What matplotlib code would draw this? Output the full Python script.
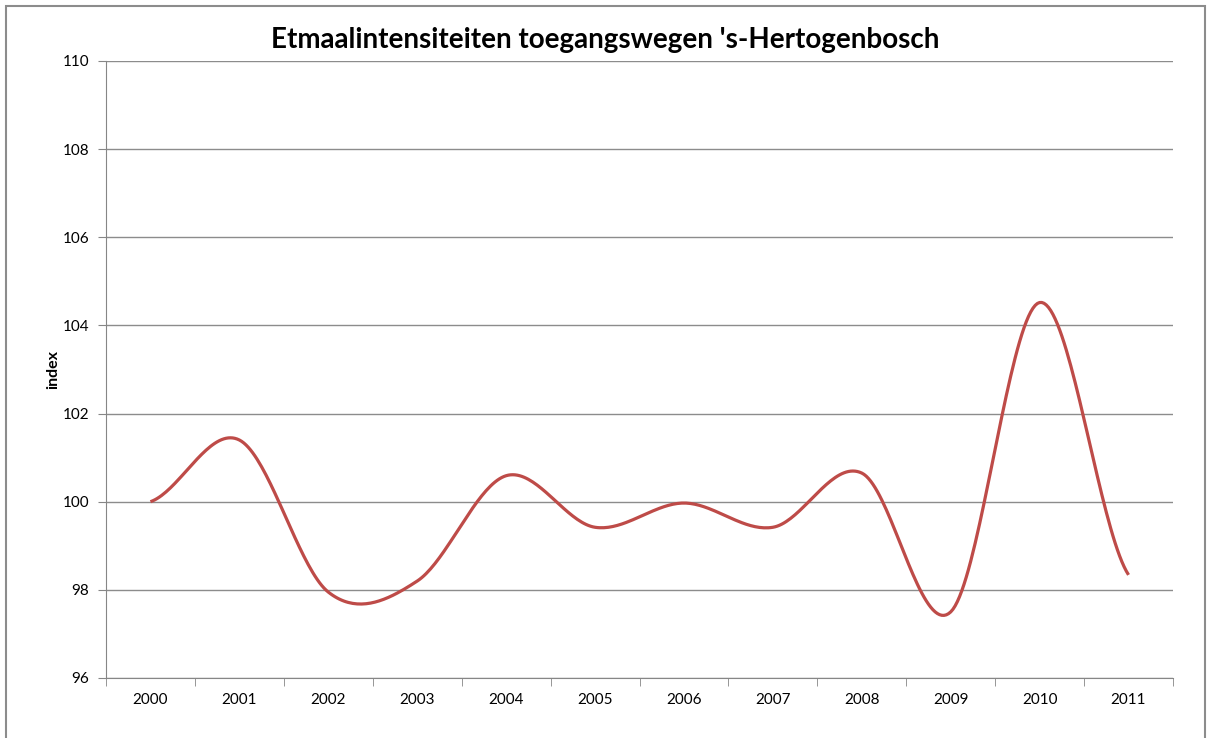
import numpy as np
import matplotlib.pyplot as plt
from matplotlib.patches import Rectangle

# Data
years = ['2000', '2001', '2002', '2003', '2004', '2005',
         '2006', '2007', '2008', '2009', '2010', '2011']
index_values = [100.0, 101.4, 97.95, 98.2, 100.59, 99.42,
                99.97, 99.42, 100.65, 97.5, 104.52, 98.34]
y_ticks = [96, 98, 100, 102, 104, 106, 108, 110]

plt.rcParams['font.family'] = ['Lato', 'DejaVu Sans']


def smooth(vals, n=40):
    # Excel-like smoothed line (Catmull-Rom / cubic Hermite)
    p = np.asarray(vals, dtype=float)
    ext = np.concatenate([[p[0]], p, [p[-1]]])
    xs, ys = [], []
    t = np.linspace(0, 1, n, endpoint=False)
    for i in range(len(p) - 1):
        m0 = (ext[i + 2] - ext[i]) / 2
        m1 = (ext[i + 3] - ext[i + 1]) / 2
        h00 = 2 * t**3 - 3 * t**2 + 1
        h10 = t**3 - 2 * t**2 + t
        h01 = -2 * t**3 + 3 * t**2
        h11 = t**3 - t**2
        xs.append(i + t)
        ys.append(h00 * p[i] + h10 * m0 + h01 * p[i + 1] + h11 * m1)
    xs.append([len(p) - 1])
    ys.append([p[-1]])
    return np.concatenate(xs), np.concatenate(ys)


fig = plt.figure(figsize=(12.1, 7.38), dpi=100)
ax = fig.add_axes([106 / 1210, 1 - 678 / 738, (1173 - 106) / 1210, (678 - 61) / 738])

# outer chart border
fig.patches.append(Rectangle((6 / 1210, -0.1), 1199 / 1210, 1.1 - 6 / 738,
                             transform=fig.transFigure, fill=False,
                             edgecolor='#8c8c8c', linewidth=1.5))

sx, sy = smooth(index_values)
ax.plot(sx, sy, color='#BE4B48', linewidth=2.3, solid_capstyle='butt')

ax.set_xlim(-0.5, len(years) - 0.5)
ax.set_ylim(96, 110)
ax.set_yticks(y_ticks)
ax.set_yticklabels([str(v) for v in y_ticks], fontsize=11)
ax.set_xticks(range(len(years)))
ax.set_xticklabels(years, fontsize=11)
ax.set_xticks(np.arange(-0.5, len(years), 1.0), minor=True)
ax.tick_params(axis='x', which='major', length=0, pad=11)
ax.tick_params(axis='x', which='minor', length=6, color='#868686')
ax.tick_params(axis='y', length=6, color='#868686', pad=6)

ax.grid(axis='y', color='#8c8c8c', linewidth=1)
ax.set_axisbelow(True)
for side in ['top', 'right']:
    ax.spines[side].set_visible(False)
for side in ['left', 'bottom']:
    ax.spines[side].set_color('#868686')

ax.set_ylabel('index', fontsize=11.5, fontweight='bold', labelpad=2)
fig.text(0.5, 1 - 40 / 738, "Etmaalintensiteiten toegangswegen 's-Hertogenbosch",
         ha='center', va='center', fontsize=20, fontweight='bold')

plt.savefig('out.png')
